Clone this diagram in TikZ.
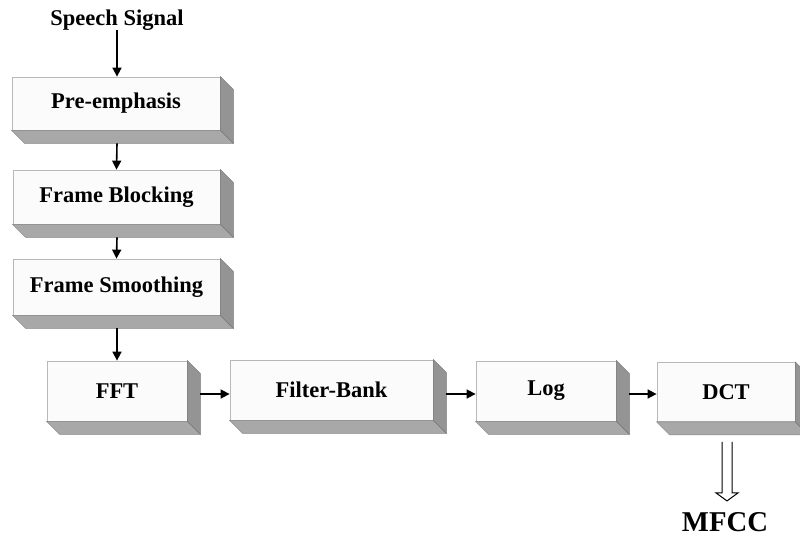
\documentclass[tikz,border=0pt]{standalone}
\usepackage{fontspec}
\setmainfont{Liberation Serif}
\usetikzlibrary{arrows.meta,calc}
\definecolor{frontborder}{HTML}{B8B8B8}
\definecolor{frontfill}{HTML}{FBFBFB}
\definecolor{bottomface}{HTML}{A8A8A8}
\definecolor{rightface}{HTML}{949494}
\tikzset{
  x=1pt, y=-1pt,
  box3d/.style={draw=frontborder, line width=0.8pt, fill=frontfill, inner sep=0pt,
    font=\fontsize{22.5}{26}\selectfont\bfseries, anchor=center},
  lbl/.style={font=\fontsize{22.5}{26}\selectfont\bfseries, inner sep=1pt},
  flow/.style={line width=1.6pt, -{Triangle[length=9pt,width=9pt]}},
  bottomstyle/.style={fill=bottomface, draw=bottomface!80!black, line width=0.4pt},
  rightstyle/.style={fill=rightface, draw=rightface!80!black, line width=0.4pt},
}
\begin{document}
\begin{tikzpicture}
\useasboundingbox[fill=white] (0,0) rectangle (800,538);
% boxes (front faces)
\node[box3d, minimum width=208pt, minimum height=53pt] (pre) at (116,103.5) {Pre-emphasis};
\node[box3d, minimum width=207pt, minimum height=54pt] (blk) at (116.5,197) {Frame Blocking};
\node[box3d, minimum width=207pt, minimum height=56pt] (smo) at (116.5,287) {Frame Smoothing};
\node[box3d, minimum width=140pt, minimum height=60pt] (fft) at (117,391) {FFT};
\node[box3d, minimum width=203pt, minimum height=60pt] (fb) at (331.5,390) {Filter-Bank};
\node[box3d, minimum width=140pt, minimum height=60pt] (log) at (546,391) {Log};
\node[box3d, minimum width=138pt, minimum height=59pt] (dct) at (726,392) {DCT};
% 3D extrusion
\foreach \n in {pre,blk,smo,fft,fb,log,dct}{
  \draw[bottomstyle] (\n.south west) -- (\n.south east) -- ++(13,13) -- ($(\n.south west)+(13,13)$) -- cycle;
  \draw[rightstyle] (\n.north east) -- ++(13,13) -- ($(\n.south east)+(13,13)$) -- (\n.south east) -- cycle;
}
% labels
\node[lbl] (sig) at (117,20) {Speech Signal};
\node[font=\fontsize{28.7}{32}\selectfont\bfseries, inner sep=1pt] (mfcc) at (725,522) {MFCC};
% connectors
\draw[flow] (117,30) -- (pre.north -| 117,0);
\draw[flow] ($(pre.south)+(1,13)$) -- (blk.north);
\draw[flow] ($(blk.south)+(0.5,13)$) -- (smo.north);
\draw[flow] ($(smo.south)+(0.5,13)$) -- (fft.north);
\draw[flow] ($(fft.east)+(13,3)$) -- ($(fb.west)+(0,4)$);
\draw[flow] ($(fb.east)+(13,4)$) -- ($(log.west)+(0,3)$);
\draw[flow] ($(log.east)+(13,3)$) -- ($(dct.west)+(0,2)$);
% hollow double arrow DCT -> MFCC
\coordinate (dtop) at ($(dct.south)+(1,13)$);
\draw[line width=1pt, fill=white]
  ($(dtop)+(-5,7)$) -- ($(dtop)+(-5,58)$) -- ($(dtop)+(-11,58)$) -- ($(dtop)+(0,66)$)
  -- ($(dtop)+(11,58)$) -- ($(dtop)+(5,58)$) -- ($(dtop)+(5,7)$);
\end{tikzpicture}
\end{document}
